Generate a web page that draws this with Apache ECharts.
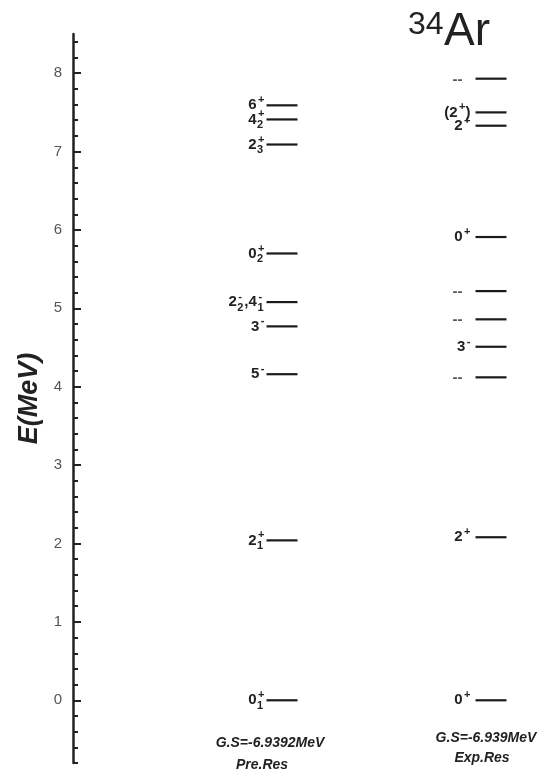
<!DOCTYPE html>
<html>
<head>
<meta charset="utf-8">
<script src="https://cdn.jsdelivr.net/npm/echarts@6/dist/echarts.min.js"></script>
<style>html,body{margin:0;padding:0;background:#fff}#c{width:554px;height:776px}</style>
</head>
<body>
<div id="c"></div>
<script>
// ---- data ----
const columns = ['Pre.Res', 'Exp.Res'];
const preEnergies = [0, 2.04, 4.16, 4.77, 5.08, 5.70, 7.09, 7.41, 7.59];
const preLabels   = ['0_1^+', '2_1^+', '5^-', '3^-', '2_2^-,4_1^-', '0_2^+', '2_3^+', '4_2^+', '6^+'];
const expEnergies = [0, 2.08, 4.12, 4.51, 4.86, 5.22, 5.91, 7.33, 7.50, 7.93];
const expLabels   = ['0^+', '2^+', '--', '3^-', '--', '--', '0^+', '2^+', '(2^+)', '--'];
const gsTexts = ['G.S=-6.9392MeV', 'G.S=-6.939MeV'];
const majorTicks = [0, 1, 2, 3, 4, 5, 6, 7, 8];
const yMin = -0.8, yMax = 8.5;
const minorTicks = [];
for (let i = -4; i <= 42; i++) minorTicks.push(+(i * 0.2).toFixed(1));

// ---- helpers ----
const FAM = '"Liberation Sans", Arial, Helvetica, sans-serif';
const baseFont = 'bold 15px ' + FAM;
const scriptFont = 'bold 11px ' + FAM;
const mctx = document.createElement('canvas').getContext('2d');
function tw(s, font) { mctx.font = font; return mctx.measureText(s).width; }

function parseLabel(str) {
  const groups = [];
  let cur = null;
  for (let i = 0; i < str.length; i++) {
    const ch = str[i];
    if (ch === '_' || ch === '^') {
      const v = str[i + 1]; i++;
      if (!cur) { cur = { base: '', sub: '', sup: '' }; groups.push(cur); }
      if (ch === '_') cur.sub = v; else cur.sup = v;
    } else {
      if (!cur || cur.sub || cur.sup) { cur = { base: '', sub: '', sup: '' }; groups.push(cur); }
      cur.base += ch;
    }
  }
  return groups;
}

function makeRender(labels, gap) {
  return function (params, api) {
    const p = api.coord([api.value(0), api.value(1)]);
    const half = 15.5;
    const x0 = p[0] - half, x1 = p[0] + half, y = p[1];
    const children = [{
      type: 'line',
      shape: { x1: x0, y1: y, x2: x1, y2: y },
      style: { stroke: '#1a1a1a', lineWidth: 2.2 }
    }];
    const label = labels[params.dataIndex];
    const isDash = label === '--';
    const color = isDash ? '#555' : '#222';
    const groups = parseLabel(label);
    let total = 0;
    groups.forEach(g => {
      g.wb = tw(g.base, baseFont);
      g.ws = Math.max(g.sub ? tw(g.sub, scriptFont) : 0, g.sup ? tw(g.sup, scriptFont) : 0) + (g.sub || g.sup ? 1.5 : 0);
      total += g.wb + g.ws;
    });
    let x = x0 - (isDash ? gap + 8 : gap) - total;
    groups.forEach(g => {
      if (g.base) children.push({ type: 'text', style: { text: g.base, x: x, y: y + (isDash ? 1 : 0), font: baseFont, fill: color, align: 'left', verticalAlign: 'middle' } });
      if (g.sup) children.push({ type: 'text', style: { text: g.sup, x: x + g.wb + 1.5, y: y - 5, font: scriptFont, fill: color, align: 'left', verticalAlign: 'middle' } });
      if (g.sub) children.push({ type: 'text', style: { text: g.sub, x: x + g.wb + 0.5, y: y + 5.5, font: scriptFont, fill: color, align: 'left', verticalAlign: 'middle' } });
      x += g.wb + g.ws;
    });
    return { type: 'group', children: children };
  };
}

const chart = echarts.init(document.getElementById('c'), null, { renderer: 'canvas' });
const option = {
  backgroundColor: '#ffffff',
  animation: false,
  grid: { left: 282, right: 63, top: 34, bottom: 13, containLabel: false },
  xAxis: {
    type: 'category', data: columns, show: false, boundaryGap: false
  },
  yAxis: [{
    type: 'value', min: yMin, max: yMax, position: 'left', offset: 209,
    name: 'E(MeV)', nameLocation: 'middle', nameGap: 30,
    nameTextStyle: { fontSize: 27, fontWeight: 'bold', fontStyle: 'italic', color: '#222', fontFamily: FAM },
    axisLine: { show: true, lineStyle: { color: '#222', width: 2.5 } },
    axisTick: { show: true, inside: true, length: 8, customValues: majorTicks, lineStyle: { color: '#222', width: 2 } },
    axisLabel: { show: true, customValues: majorTicks, margin: 11, fontSize: 15, color: '#555', fontFamily: FAM },
    splitLine: { show: false }
  }, {
    type: 'value', min: yMin, max: yMax, position: 'left', offset: 209,
    axisLine: { show: false },
    axisTick: { show: true, inside: true, length: 5, customValues: minorTicks, lineStyle: { color: '#222', width: 2 } },
    axisLabel: { show: false },
    splitLine: { show: false }
  }],
  graphic: [
    { type: 'text', x: 408, y: 25, style: { text: '34', font: '32px ' + FAM, fill: '#222', align: 'left', verticalAlign: 'middle' } },
    { type: 'text', x: 444, y: 32, style: { text: 'Ar', font: '46px ' + FAM, fill: '#222', align: 'left', verticalAlign: 'middle' } },
    { type: 'text', x: 270, y: 743, style: { text: gsTexts[0], font: 'italic bold 14px ' + FAM, fill: '#222', align: 'center', verticalAlign: 'middle' } },
    { type: 'text', x: 262, y: 765, style: { text: columns[0], font: 'italic bold 14px ' + FAM, fill: '#222', align: 'center', verticalAlign: 'middle' } },
    { type: 'text', x: 486, y: 738, style: { text: gsTexts[1], font: 'italic bold 14px ' + FAM, fill: '#222', align: 'center', verticalAlign: 'middle' } },
    { type: 'text', x: 482, y: 758, style: { text: columns[1], font: 'italic bold 14px ' + FAM, fill: '#222', align: 'center', verticalAlign: 'middle' } }
  ],
  series: [{
    type: 'custom', name: columns[0], xAxisIndex: 0, yAxisIndex: 0, clip: false,
    renderItem: makeRender(preLabels, 2),
    data: preEnergies.map(e => [columns[0], e])
  }, {
    type: 'custom', name: columns[1], xAxisIndex: 0, yAxisIndex: 0, clip: false,
    renderItem: makeRender(expLabels, 5),
    data: expEnergies.map(e => [columns[1], e])
  }]
};
chart.setOption(option);
</script>
</body>
</html>
